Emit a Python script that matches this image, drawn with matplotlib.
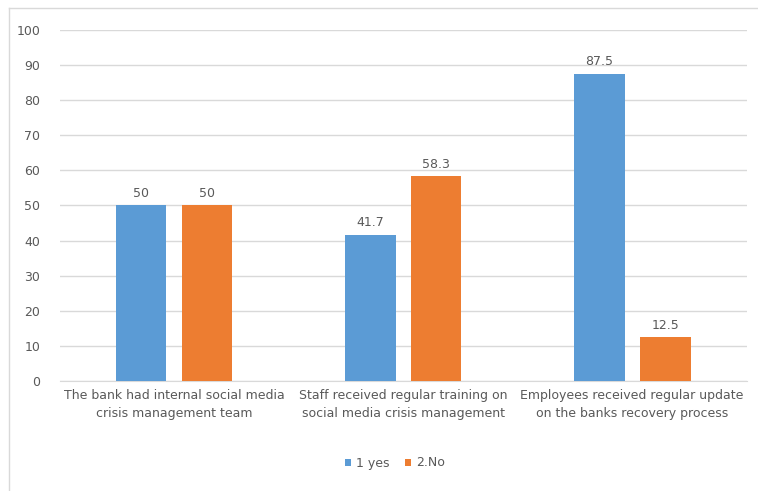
import matplotlib.pyplot as plt
from matplotlib.lines import Line2D
import numpy as np

categories = ["The bank had internal social media\ncrisis management team",
              "Staff received regular training on\nsocial media crisis management",
              "Employees received regular update\non the banks recovery process"]
yes_vals = [50, 41.7, 87.5]
no_vals = [50, 58.3, 12.5]
yes_labels = ["50", "41.7", "87.5"]
no_labels = ["50", "58.3", "12.5"]

blue = "#5B9BD5"
orange = "#ED7D31"
txt = "#595959"

fig = plt.figure(figsize=(7.58, 4.91), dpi=100)
# chart-area border (left and top edges visible in the crop)
bx, by = 9 / 758, 1 - 8 / 491
fig.add_artist(Line2D([bx, bx], [0, by], transform=fig.transFigure, color="#d9d9d9", lw=1))
fig.add_artist(Line2D([bx, 1], [by, by], transform=fig.transFigure, color="#d9d9d9", lw=1))

ax = fig.add_axes([0.0785, 0.224, 0.9065, 0.715])

x = np.arange(len(categories))
w = 0.222
off = 0.144
b1 = ax.bar(x - off, yes_vals, w, color=blue, label="1 yes", zorder=3)
b2 = ax.bar(x + off, no_vals, w, color=orange, label="2.No", zorder=3)
ax.bar_label(b1, labels=yes_labels, padding=4, fontsize=9, color=txt)
ax.bar_label(b2, labels=no_labels, padding=4, fontsize=9, color=txt)

ax.set_xlim(-0.5, 2.5)
ax.set_ylim(0, 100)
ax.set_yticks(range(0, 101, 10))
ax.set_xticks(x)
ax.set_xticklabels(categories, fontsize=9, color=txt, linespacing=1.5)
ax.tick_params(axis="y", labelsize=9, labelcolor=txt, length=0, pad=14)
ax.tick_params(axis="x", length=0, pad=6)
ax.grid(axis="y", color="#d9d9d9", linewidth=1, zorder=0)
for s in ["top", "right", "left"]:
    ax.spines[s].set_visible(False)
ax.spines["bottom"].set_color("#d9d9d9")

fig.legend(handles=[b1, b2], loc="center", bbox_to_anchor=(395 / 758, 1 - 463 / 491),
           ncol=2, frameon=False, fontsize=9, labelcolor=txt,
           handlelength=0.5, handleheight=0.5, handletextpad=0.4, columnspacing=1.2)

fig.savefig("out.png", dpi=100)
